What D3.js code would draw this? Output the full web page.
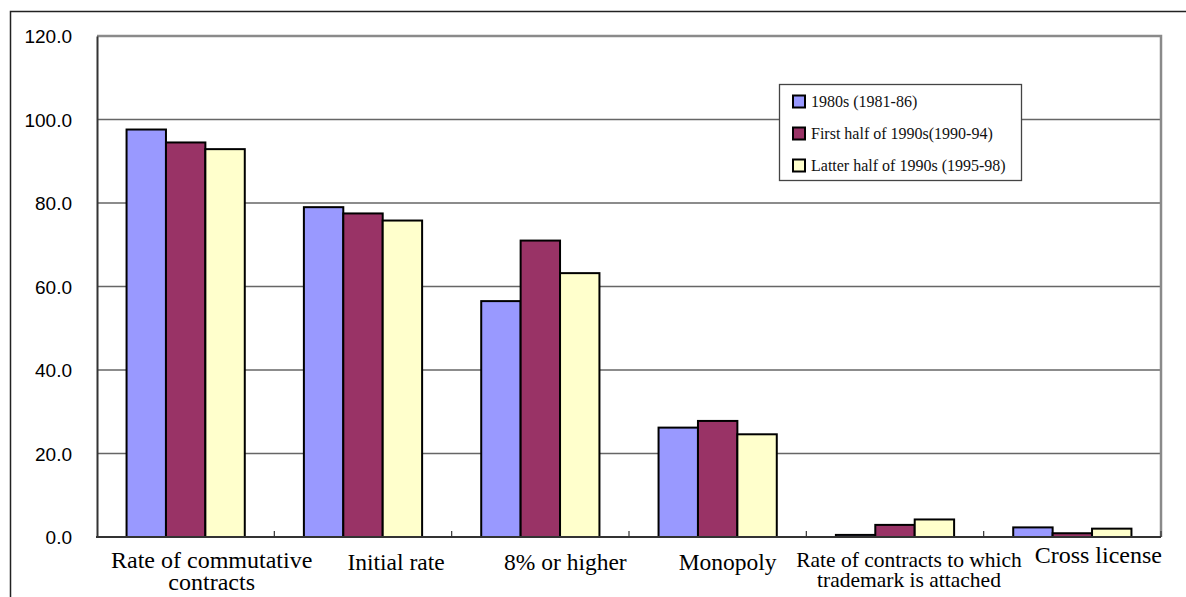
<!DOCTYPE html>
<html>
<head>
<meta charset="utf-8">
<script src="https://cdn.jsdelivr.net/npm/d3@7"></script>
<style>
  html, body { margin: 0; padding: 0; background: #fff; overflow: hidden; }
  svg { display: block; }
</style>
</head>
<body>
<svg id="chart" width="1186" height="597"></svg>
<script>
// Contract conditions by period (percent of contracts)
const categories = [
  "Rate of commutative\ncontracts",
  "Initial rate",
  "8% or higher",
  "Monopoly",
  "Rate of contracts to which\ntrademark is attached",
  "Cross license"
];
const seriesNames = [
  "1980s (1981-86)",
  "First half of 1990s(1990-94)",
  "Latter half of 1990s (1995-98)"
];
const values1980s      = [97.6, 79.0, 56.5, 26.2, 0.5, 2.3];
const valuesEarly1990s = [94.5, 77.5, 71.0, 27.8, 2.9, 0.9];
const valuesLate1990s  = [92.9, 75.8, 63.2, 24.6, 4.2, 2.0];
const yTicks = [0, 20, 40, 60, 80, 100, 120];

// styling
const seriesColors = ["#9999FF", "#993366", "#FFFFCC"];
const labelFontSize = [24, 23.5, 23.5, 23.5, 21.5, 24];
const labelLineGap = [22, 22, 22, 22, 20, 22];
const labelShift = [26, 33, 25, 10, 14, 26];
const labelBaseline = [568, 570, 570, 570, 567, 563];

const seriesValues = [values1980s, valuesEarly1990s, valuesLate1990s];
const rows = categories.map((c, i) => ({
  category: c,
  values: seriesNames.map((s, j) => ({ key: s, value: seriesValues[j][i], color: seriesColors[j] }))
}));

const svg = d3.select("#chart");
const plot = { left: 97, right: 1161, top: 36, bottom: 537 };

// outer frame (runs past the bottom and right edge)
svg.append("rect")
  .attr("x", 10.5).attr("y", 11.5)
  .attr("width", 1300).attr("height", 700)
  .attr("fill", "none").attr("stroke", "#222").attr("stroke-width", 1.5);

const x0 = d3.scaleBand().domain(categories).range([plot.left, plot.right]).paddingInner(0).paddingOuter(0);
const x1 = d3.scaleBand().domain(seriesNames).range([0, x0.bandwidth()]).paddingInner(0).paddingOuter(0.75);
const y = d3.scaleLinear().domain([0, 120]).range([plot.bottom, plot.top]);

// gridlines
svg.append("g")
  .selectAll("line")
  .data(yTicks.filter(t => t > 0 && t < 120))
  .join("line")
  .attr("x1", plot.left).attr("x2", plot.right)
  .attr("y1", d => y(d)).attr("y2", d => y(d))
  .attr("stroke", "#666").attr("stroke-width", 1.4);

// plot area top and right edges
svg.append("path")
  .attr("d", `M${plot.left},${y(120)}H${plot.right}V${plot.bottom}`)
  .attr("fill", "none").attr("stroke", "#8a8a8a").attr("stroke-width", 2.5);

// bars
const groups = svg.append("g").selectAll("g")
  .data(rows)
  .join("g")
  .attr("transform", d => `translate(${x0(d.category)},0)`);

groups.selectAll("rect")
  .data(d => d.values)
  .join("rect")
  .attr("x", d => x1(d.key))
  .attr("y", d => y(d.value))
  .attr("width", x1.bandwidth())
  .attr("height", d => y(0) - y(d.value))
  .attr("fill", d => d.color)
  .attr("stroke", "#000")
  .attr("stroke-width", 2);

// y axis
const yAxis = d3.axisLeft(y).tickValues(yTicks).tickSize(0).tickPadding(25)
  .tickFormat(d3.format(".1f"));
const gy = svg.append("g").attr("transform", `translate(${plot.left},0)`).call(yAxis);
gy.select(".domain").attr("stroke", "#333").attr("stroke-width", 2);
gy.selectAll("text")
  .attr("font-family", "'Liberation Sans', Arial, sans-serif")
  .attr("font-size", 19)
  .attr("fill", "#000")
  .attr("dy", "0.36em");

// x axis with inward ticks at category boundaries
const boundaries = categories.slice(1).map(c => x0(c));
const gx = svg.append("g");
gx.append("line")
  .attr("x1", plot.left - 1).attr("x2", plot.right)
  .attr("y1", plot.bottom).attr("y2", plot.bottom)
  .attr("stroke", "#333").attr("stroke-width", 2);
gx.selectAll("line.tick")
  .data(boundaries.concat([plot.right]))
  .join("line")
  .attr("class", "tick")
  .attr("x1", d => d).attr("x2", d => d)
  .attr("y1", plot.bottom).attr("y2", plot.bottom - 6)
  .attr("stroke", "#333").attr("stroke-width", 1.2);

// category labels
categories.forEach((c, i) => {
  const cx = x0(c) + x0.bandwidth() / 2 + labelShift[i];
  const lines = c.split("\n");
  const t = svg.append("text")
    .attr("text-anchor", "middle")
    .attr("font-family", "'Liberation Serif', 'Times New Roman', serif")
    .attr("font-size", labelFontSize[i])
    .attr("fill", "#000");
  lines.forEach((ln, k) => {
    t.append("tspan")
      .attr("x", cx)
      .attr("y", labelBaseline[i] + k * labelLineGap[i])
      .text(ln);
  });
});

// legend
const legend = svg.append("g");
legend.append("rect")
  .attr("x", 779.5).attr("y", 84.5)
  .attr("width", 242).attr("height", 96)
  .attr("fill", "#fff").attr("stroke", "#444").attr("stroke-width", 1.3);
const ly = d3.scalePoint().domain(seriesNames).range([101.5, 165.5]);
seriesNames.forEach((s, j) => {
  legend.append("rect")
    .attr("x", 793).attr("y", ly(s) - 6)
    .attr("width", 12).attr("height", 12)
    .attr("fill", seriesColors[j]).attr("stroke", "#000").attr("stroke-width", 2);
  legend.append("text")
    .attr("x", 811).attr("y", ly(s) + 5.5)
    .attr("font-family", "'Liberation Serif', 'Times New Roman', serif")
    .attr("font-size", 16)
    .attr("fill", "#111")
    .text(s);
});
</script>
</body>
</html>
